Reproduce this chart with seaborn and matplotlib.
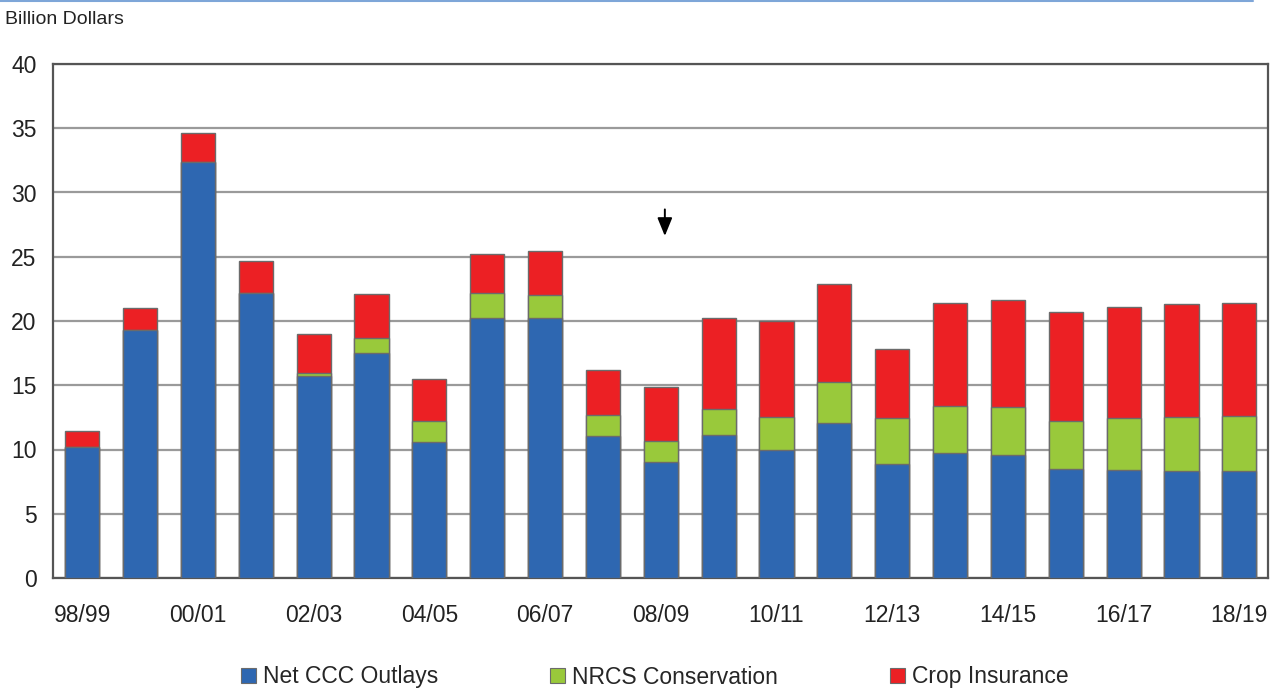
import numpy as np
import pandas as pd
import seaborn as sns
import matplotlib
matplotlib.use("Agg")
import matplotlib.pyplot as plt
from matplotlib.lines import Line2D
from matplotlib.patches import Patch

categories = ["98/99", "99/00", "00/01", "01/02", "02/03", "03/04", "04/05",
              "05/06", "06/07", "07/08", "08/09", "09/10", "10/11", "11/12",
              "12/13", "13/14", "14/15", "15/16", "16/17", "17/18", "18/19"]
net_ccc = [10.2, 19.3, 32.35, 22.15, 15.7, 17.5, 10.6, 20.2, 20.2, 11.05, 9.0,
           11.1, 9.95, 12.1, 8.85, 9.7, 9.6, 8.5, 8.4, 8.35, 8.3]
nrcs = [0.0, 0.0, 0.0, 0.0, 0.25, 1.2, 1.6, 2.0, 1.8, 1.6, 1.7,
        2.05, 2.6, 3.15, 3.6, 3.65, 3.7, 3.7, 4.05, 4.2, 4.3]
crop_ins = [1.25, 1.7, 2.3, 2.55, 3.05, 3.4, 3.3, 3.0, 3.45, 3.55, 4.15,
            7.1, 7.45, 7.65, 5.4, 8.05, 8.3, 8.5, 8.65, 8.75, 8.8]
series_names = ["Net CCC Outlays", "NRCS Conservation", "Crop Insurance"]
labeled_ticks = ["98/99", "00/01", "02/03", "04/05", "06/07", "08/09",
                 "10/11", "12/13", "14/15", "16/17", "18/19"]

colors = ["#2E67B1", "#99C93B", "#EC2024"]

sns.set_style("white")
plt.rcParams["font.family"] = ["Liberation Sans", "DejaVu Sans"]

df = pd.DataFrame({"cat": categories, "a": net_ccc, "b": nrcs, "c": crop_ins})
df["ab"] = df["a"] + df["b"]
df["abc"] = df["ab"] + df["c"]

fig = plt.figure(figsize=(12.81, 6.88), dpi=100)
ax = fig.add_axes([53.3 / 1281, 1 - 578 / 688, 1215 / 1281, (578 - 64) / 688])

edge = "#6b6b6b"
for col, c in zip(["abc", "ab", "a"], [colors[2], colors[1], colors[0]]):
    sns.barplot(data=df, x="cat", y=col, order=categories, color=c,
                saturation=1, width=0.59, edgecolor=edge, linewidth=1.0,
                ax=ax, zorder=3)

ax.set_xlim(-0.5, 20.5)
ax.set_ylim(0, 40)
ax.set_yticks(np.arange(0, 41, 5))
ax.set_xticks(range(len(categories)))
ax.set_xticklabels([c if c in labeled_ticks else "" for c in categories])
ax.set_xticks(np.arange(-0.5, 21, 1), minor=True)
ax.tick_params(axis="x", which="major", length=0, pad=19, labelsize=16.5, colors="#222222")
ax.tick_params(axis="x", which="minor", length=6, width=1.3, color="#444444", direction="out")
ax.tick_params(axis="y", which="major", length=6, width=1.3, color="#444444",
               direction="out", labelsize=16.5, pad=6, labelcolor="#222222")
ax.set_xlabel("")
ax.set_ylabel("")
ax.yaxis.grid(True, color="#9a9a9a", linewidth=1.6)
ax.set_axisbelow(True)
for s in ["left", "right", "top", "bottom"]:
    ax.spines[s].set_visible(True)
    ax.spines[s].set_color("#555555")
    ax.spines[s].set_linewidth(1.6)

# arrow marker above 08/09
ax.annotate("", xy=(10.07, 26.4), xytext=(10.07, 28.9),
            arrowprops=dict(arrowstyle="-|>,head_length=1.1,head_width=0.45",
                            color="black", lw=1.4), zorder=5)

fig.text(5 / 1281, 1 - 20 / 688, "Billion Dollars", fontsize=14,
         va="center", ha="left", color="#222222")
fig.add_artist(Line2D([0, 1253 / 1281], [1 - 1 / 688, 1 - 1 / 688],
                      color="#7EA6D8", lw=1.5, transform=fig.transFigure))

handles = [Patch(facecolor=c, edgecolor=edge, linewidth=0.8) for c in colors]
fig.legend(handles, series_names, loc="center", ncol=3,
           bbox_to_anchor=(655 / 1281, 1 - 677 / 688), frameon=False,
           fontsize=16.5, handlelength=0.65, handleheight=0.65,
           handletextpad=0.3, columnspacing=4.9, borderpad=0)

fig.savefig("out.png", dpi=100, facecolor="white")
